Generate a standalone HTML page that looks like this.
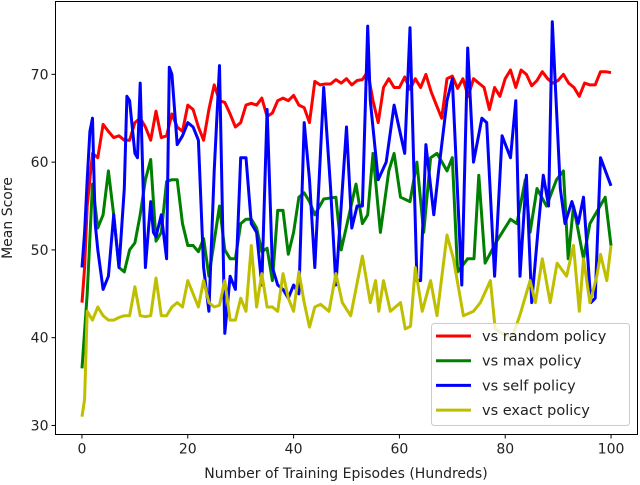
<!DOCTYPE html>
<html><head><meta charset="utf-8"><style>
body{margin:0;background:#fff;}
svg{display:block;font-family:"DejaVu Sans","Liberation Sans",sans-serif;}
</style></head><body>
<svg id="chart" width="640" height="485" viewBox="0 0 640 485" xmlns="http://www.w3.org/2000/svg">
<g id="plot"></g>
<rect x="55.5" y="1.5" width="582" height="433" fill="none" stroke="#000" stroke-width="1"/>
<g id="axes"></g>
<text x="346" y="478" font-size="14" text-anchor="middle" fill="#222">Number of Training Episodes (Hundreds)</text>
<text transform="translate(12,218) rotate(-90)" font-size="14" text-anchor="middle" fill="#222">Mean Score</text>
<g id="legend"></g>
</svg>
<script>
const xTicks=[0,20,40,60,80,100];
const yTicks=[30,40,50,60,70];
const seriesNames=["vs random policy","vs max policy","vs self policy","vs exact policy"];
const seriesColors=["#ff0000","#008000","#0000ff","#bfbf00"];
const randomX=[0,0.5,1,2,3,4,5,6,7,8,9,10,11,12,13,14,15,16,17,18,19,20,21,22,23,24,25,26,27,28,29,30,31,32,33,34,35,36,37,38,39,40,41,42,43,44,45,46,47,48,49,50,51,52,53,54,55,56,57,58,59,60,61,62,63,64,65,66,67,68,69,70,71,72,73,74,75,76,77,78,79,80,81,82,83,84,85,86,87,88,89,90,91,92,93,94,95,96,97,98,99,100];
const randomY=[44,48,55,61,60.5,64.3,63.5,62.8,63,62.5,62.5,64.5,65,64,62.5,65.8,62.8,63,65.5,64,63.5,66.5,66,64,62.5,66,68.8,67,66.8,65.5,64,64.5,66.5,66.7,66.5,67.3,65.2,65.6,67,67.3,67,67.6,66.5,66.2,64.5,69.2,68.8,68.9,68.9,69.4,69,69.5,68.8,69.3,69.4,70.3,67,64.5,68.5,69.5,68.5,68.5,69.7,68.3,69.5,68.5,70,68,66.5,65,69.5,69.8,68.4,69.5,67.5,69.5,69,68.5,66,68.5,67.5,69.5,70.5,68.5,70.5,70,68.7,69.3,70.3,69.5,69,69.3,70,69,68.5,67.5,69,68.8,68.8,70.3,70.3,70.2];
const maxX=[0,1,2,3,4,5,6,7,8,9,10,11,12,13,14,15,16,17,18,19,20,21,22,23,24,25,26,27,28,29,30,31,32,33,34,35,36,37,38,39,40,41,42,43,44,45.7,48,49,50.5,51.8,53,54,55,56.4,58,59,60.2,62,63.3,64.6,65.9,67.1,69,70,71,72.9,74.1,75,76.2,78.4,81,82.2,83.8,84.7,86,87.8,89.7,91,91.9,92.9,94.8,96,98.9,100];
const maxY=[36.5,45,57.5,52.5,54,59,54,48,47.5,50,50.8,54,58,60.3,51,52,57.8,58,58,53,50.5,50.5,49.8,51.3,47,51,55,50,49,49,53,53.5,53.5,52.5,49.8,50.2,46.5,54.5,54.5,49.5,52,56,56.5,55.5,54,55.8,56,50,54,57.5,53,54,61,52,59,61,56,55.5,60,52,60.5,61,59,60.5,47.5,49,49,58.5,48.5,51,53.5,53,58,52,57,55,58,59,49,55,49,53,56,50.5];
const selfX=[0,0.5,1,1.5,2,2.5,3,4,5,6,7,8,8.5,9,10,10.5,11,12,13,13.5,14,15,16,16.5,17,18,19,20,21,22,23,24,25,26,27,28,29,30,31,32,33,34,35,36,37,38,39,40,41,42,43,44,45.7,47,48,50,51,52,53,54,54.5,56,57.5,59,61,62,63.3,64,65,66.5,67.4,69,70,71.8,72.9,74,75.6,76.5,78,79.4,81,82,82.8,84,85,86.3,87.2,88.2,88.9,90.4,91.3,92.6,93.8,94.8,96.2,97,98,100];
const selfY=[48,52,58,63.5,65,53,50,45.5,47,54,48,57,67.5,67,61,60.5,69,48,55.5,52,51.5,54,49,70.8,70,62,63,64.5,64,62.5,48,43,59,71,40.5,47,45.5,60.5,60.5,53,52,46,66,48,46,45.5,44.5,46,45,64.5,58,48,68.5,57,46,64,52.5,55,55,75.5,67,58,60,66.5,61,75.3,46.5,46.5,62,54,59,67,69.5,46,73,60,65,64.5,47,63,60.5,67,47,58.5,44,53,58.5,55,76,57,53,55.5,53,56,44,44.5,60.5,57.3];
const exactX=[0,0.5,1,2,3,4,5,6,7,8,9,10,11,12,13,14,15,16,17,18,19,20,21,22,23,24,25,26,27,28,29,30,31,32,33,34,35,36,37,38,39,40,41,42,43,44,45.1,46.7,48,49.2,50.8,53,54.5,55.5,56.1,57,58.3,60.2,61.1,62.1,63,64.3,65.9,67.1,69,70.2,72.1,74,75.3,77.2,78.1,79.4,81.3,82.8,84.7,85.7,87,88.5,89.8,91.6,92.9,94,94.8,96,97.3,98,99.2,100];
const exactY=[31,33,43,42,43.5,42.5,42,42,42.3,42.5,42.5,45.8,42.5,42.4,42.5,46.8,42.5,42.5,43.5,44,43.5,46.5,45,43.5,46.5,44,43.5,43.7,46.5,42,42,44.5,43,50.5,43.5,47.3,43.5,43.5,43,47.3,44.5,43,47.5,44,41.2,43.5,43.8,43,47.3,44,42.5,49.3,44,46.5,43,46.5,43,44,41,41.3,48,43,46.5,42.5,51.7,49,42.5,43,44,46.5,41,40.5,40,42.6,46.5,44,49,44,48.5,47,50.5,43,49,44,47,49.5,46.5,50.5];
const seriesX=[randomX,maxX,selfX,exactX];
const seriesY=[randomY,maxY,selfY,exactY];
const seriesKeys=["random","max","self","exact"];

const X0=-5,X1=105,Y0=28.97,Y1=78.3,PL=55.5,PR=637.5,PT=1.5,PB=434.5;
const sx=v=>PL+(v-X0)/(X1-X0)*(PR-PL);
const sy=v=>PB-(v-Y0)/(Y1-Y0)*(PB-PT);
const NS="http://www.w3.org/2000/svg";
const plot=document.getElementById('plot'),axes=document.getElementById('axes'),legend=document.getElementById('legend');
function mk(t,a){const e=document.createElementNS(NS,t);for(const k in a)e.setAttribute(k,a[k]);return e;}

for(let s=0;s<4;s++){
  const d=seriesX[s].map((x,i)=>(i?'L':'M')+sx(x).toFixed(1)+','+sy(seriesY[s][i]).toFixed(1)).join('');
  const p=mk('path',{d:d,fill:'none',stroke:seriesColors[s],'stroke-width':3,'stroke-linejoin':'round'});
  
  
  plot.appendChild(p);
}
xTicks.forEach(v=>{
  const x=sx(v);
  const l=mk('line',{x1:x,x2:x,y1:PB,y2:PB+4,stroke:'#000'});
  
  
  axes.appendChild(l);
  const t=mk('text',{x:x,y:PB+19,'font-size':14,'text-anchor':'middle',fill:'#222'});
  
  
  t.textContent=v;axes.appendChild(t);
});
yTicks.forEach(v=>{
  const y=sy(v);
  const l=mk('line',{x1:PL-4,x2:PL,y1:y,y2:y,stroke:'#000'});
  
  
  axes.appendChild(l);
  const t=mk('text',{x:PL-7,y:y+5,'font-size':14,'text-anchor':'end',fill:'#222'});
  
  
  t.textContent=v;axes.appendChild(t);
});
const box=mk('rect',{x:431.5,y:323.5,width:198,height:102,rx:3,fill:'rgba(255,255,255,0.8)',stroke:'#ccc'});


legend.appendChild(box);
for(let s=0;s<4;s++){
  const y=336+s*24.7;
  const l=mk('line',{x1:436,x2:471,y1:y,y2:y,stroke:seriesColors[s],'stroke-width':3});
  
  
  legend.appendChild(l);
  const t=mk('text',{x:482,y:y+5,'font-size':14.5,fill:'#222'});
  
  
  t.textContent=seriesNames[s];legend.appendChild(t);
}
</script>
</body></html>
